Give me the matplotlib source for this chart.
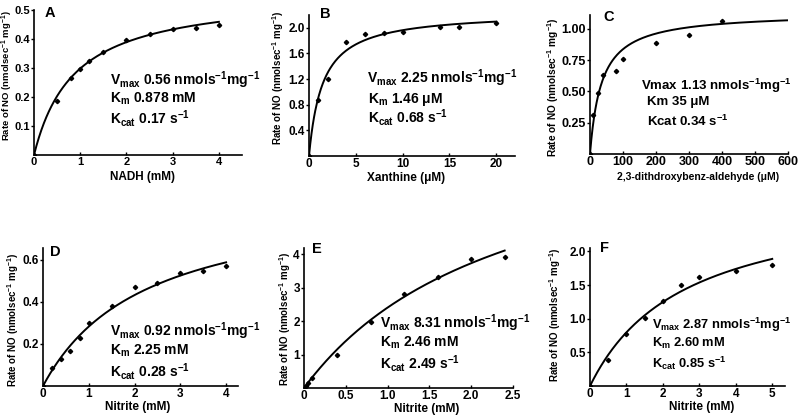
import numpy as np
import matplotlib
matplotlib.use('Agg')
import matplotlib.pyplot as plt

plt.rcParams['font.family'] = ['Liberation Sans', 'DejaVu Sans']
plt.rcParams['font.weight'] = 'bold'
plt.rcParams['mathtext.fontset'] = 'custom'
plt.rcParams['mathtext.rm'] = 'Liberation Sans:bold'
plt.rcParams['mathtext.it'] = 'Liberation Sans:bold'
plt.rcParams['mathtext.bf'] = 'Liberation Sans:bold'
plt.rcParams['mathtext.default'] = 'rm'

# datos
nadh_x = [0, 0.5, 0.8, 1.0, 1.2, 1.5, 2.0, 2.5, 3.0, 3.5, 4.0]
nadh_y = [0, 0.187, 0.267, 0.296, 0.325, 0.354, 0.395, 0.417, 0.434, 0.439, 0.448]
nadh_vmax, nadh_km = 0.56, 0.878

xan_x = [0, 1, 2, 4, 6, 8, 10, 14, 16, 20]
xan_y = [0, 0.88, 1.2, 1.78, 1.9, 1.92, 1.94, 2.02, 2.02, 2.08]
xan_vmax, xan_km = 2.25, 1.46

ald_x = [0, 10, 25, 40, 80, 100, 200, 300, 400]
ald_y = [0, 0.31, 0.49, 0.63, 0.66, 0.76, 0.89, 0.95, 1.06]
ald_vmax, ald_km = 1.13, 35

nitD_x = [0, 0.2, 0.4, 0.6, 0.8, 1.0, 1.5, 2.0, 2.5, 3.0, 3.5, 4.0]
nitD_y = [0, 0.086, 0.13, 0.167, 0.23, 0.30, 0.38, 0.47, 0.49, 0.538, 0.548, 0.571]
nitD_vmax, nitD_km = 0.92, 2.25

nitE_x = [0, 0.02, 0.05, 0.1, 0.4, 0.8, 1.2, 1.6, 2.0, 2.4]
nitE_y = [0, 0.05, 0.15, 0.3, 0.98, 1.97, 2.8, 3.31, 3.85, 3.92]
nitE_vmax, nitE_km = 8.31, 2.46

nitF_x = [0, 0.5, 1.0, 1.5, 2.0, 2.5, 3.0, 4.0, 5.0]
nitF_y = [0, 0.39, 0.77, 1.01, 1.27, 1.5, 1.62, 1.71, 1.80]
nitF_vmax, nitF_km = 2.87, 2.60

W, H = 800, 416
fig = plt.figure(figsize=(8, 4.16), dpi=100)


def box(l, r, b, t):
    return [l / W, 1 - b / H, (r - l) / W, (b - t) / H]


def ftxt(x, y, s, **kw):
    fig.text(x / W, 1 - y / H, s, **kw)


ylab = r'Rate of NO (nmolsec$^{-1}$ mg$^{-1}$)'

panels = [
    dict(letter='A', x=nadh_x, y=nadh_y, vmax=nadh_vmax, km=nadh_km,
         pos=(34, 242, 155, 10), xlim=4.5, ylim=0.5,
         xt=[0, 1, 2, 3, 4], yt=[0.1, 0.2, 0.3, 0.4, 0.5], yfmt='%.1f', xfmt=None,
         xlabel='NADH (mM)', xl=(142, 177), yl=(7, 76), let=(45, 13), yfs=6.8, tkfs=8,
         lines=[r'V$_{max}$ 0.56 nmols$^{-1}$mg$^{-1}$', r'K$_{m}$ 0.878 mM', r'K$_{cat}$ 0.17 s$^{-1}$'],
         lx=[110, 110, 110], ly=[80, 99, 118], tfs=10),
    dict(letter='B', x=xan_x, y=xan_y, vmax=xan_vmax, km=xan_km,
         pos=(309, 515, 156, 15), xlim=22, ylim=2.2,
         xt=[0, 5, 10, 15, 20], yt=[0.4, 0.8, 1.2, 1.6, 2.0], yfmt='%.1f', xfmt=None,
         xlabel='Xanthine (\u03bcM)', xl=(406, 178), yl=(278, 78), let=(320, 14), yfs=7, tkfs=8.5,
         lines=[r'V$_{max}$ 2.25 nmols$^{-1}$mg$^{-1}$', 'K$_{m}$ 1.46 \u03bcM', r'K$_{cat}$ 0.68 s$^{-1}$'],
         lx=[367, 368, 368], ly=[78, 99, 117], tfs=10),
    dict(letter='C', x=ald_x, y=ald_y, vmax=ald_vmax, km=ald_km,
         pos=(590, 788, 154, 15), xlim=600, ylim=1.11,
         xt=[0, 100, 200, 300, 400, 500, 600], yt=[0.25, 0.5, 0.75, 1.0], yfmt='%.2f', xfmt=None,
         xlabel='2,3-dithdroxybenz-aldehyde (\u03bcM)', xl=(698, 177), yl=(553, 87), let=(603, 17),
         yfs=7.3, tkfs=9,
         lines=[r'Vmax 1.13 nmols$^{-1}$mg$^{-1}$', 'Km 35 \u03bcM', r'Kcat 0.34 s$^{-1}$'],
         lx=[641, 647, 647], ly=[86, 102, 121], tfs=9.5),
    dict(letter='D', x=nitD_x, y=nitD_y, vmax=nitD_vmax, km=nitD_km,
         pos=(43, 238, 386, 248), xlim=4.26, ylim=0.657,
         xt=[0, 1, 2, 3, 4], yt=[0.2, 0.4, 0.6], yfmt='%.1f', xfmt=None,
         xlabel='Nitrite (mM)', xl=(138, 407), yl=(13, 320), let=(50, 252), yfs=7, tkfs=8.5,
         lines=[r'V$_{max}$ 0.92 nmols$^{-1}$mg$^{-1}$', r'K$_{m}$ 2.25 mM', r'K$_{cat}$ 0.28 s$^{-1}$'],
         lx=[110, 110, 110], ly=[331, 351, 371], tfs=10),
    dict(letter='E', x=nitE_x, y=nitE_y, vmax=nitE_vmax, km=nitE_km,
         pos=(304, 513, 388, 248), xlim=2.5, ylim=4.18,
         xt=[0, 0.5, 1.0, 1.5, 2.0, 2.5], yt=[1, 2, 3, 4], yfmt='%d', xfmt='e',
         xlabel='Nitrite (mM)', xl=(427, 409), yl=(285, 319), let=(312, 249), yfs=7, tkfs=8.5,
         lines=[r'V$_{max}$ 8.31 nmols$^{-1}$mg$^{-1}$', r'K$_{m}$ 2.46 mM', r'K$_{cat}$ 2.49 s$^{-1}$'],
         lx=[380, 380, 380], ly=[323, 343, 364], tfs=10),
    dict(letter='F', x=nitF_x, y=nitF_y, vmax=nitF_vmax, km=nitF_km,
         pos=(590, 785, 386, 248), xlim=5.35, ylim=2.05,
         xt=[0, 1, 2, 3, 4, 5], yt=[0.5, 1.0, 1.5, 2.0], yfmt='%.1f', xfmt=None,
         xlabel='Nitrite (mM)', xl=(702, 407), yl=(555, 315), let=(600, 248), yfs=7, tkfs=8.5,
         lines=[r'V$_{max}$ 2.87 nmols$^{-1}$mg$^{-1}$', r'K$_{m}$ 2.60 mM', r'K$_{cat}$ 0.85 s$^{-1}$'],
         lx=[652, 652, 652], ly=[325, 343, 363], tfs=9.3),
]

for p in panels:
    ax = fig.add_axes(box(*p['pos']))
    xs = np.linspace(0, max(p['x']) if p['letter'] != 'C' else 600, 300)
    ax.plot(xs, p['vmax'] * xs / (p['km'] + xs), color='black', lw=1.4)
    ax.plot(p['x'], p['y'], 'D', color='black', ms=2.2)
    ax.set_xlim(0, p['xlim'])
    ax.set_ylim(0, p['ylim'])
    for s in ['top', 'right']:
        ax.spines[s].set_visible(False)
    for s in ['left', 'bottom']:
        ax.spines[s].set_linewidth(1.2)
    ax.set_xticks(p['xt'])
    if p['xfmt'] == 'e':
        ax.set_xticklabels(['0'] + ['%.1f' % v for v in p['xt'][1:]])
    else:
        ax.set_xticklabels([str(v) for v in p['xt']])
    ax.set_yticks(p['yt'])
    ax.set_yticklabels([p['yfmt'] % v for v in p['yt']])
    ax.tick_params(axis='x', direction='in', length=2, width=1, pad=1.5, labelsize=p['tkfs'])
    ax.tick_params(axis='y', direction='out', length=2, width=1, pad=1, labelsize=p['tkfs'])
    ax.set_facecolor('none')

    ftxt(p['yl'][0], p['yl'][1], ylab, rotation=90, ha='center', va='center', fontsize=p['yfs'])
    ftxt(p['xl'][0], p['xl'][1], p['xlabel'], ha='center', va='center',
         fontsize=7.5 if p['letter'] == 'C' else 8.5)
    ftxt(p['let'][0], p['let'][1], p['letter'], ha='left', va='center', fontsize=10.5)
    for s, x0, y0 in zip(p['lines'], p['lx'], p['ly']):
        ftxt(x0, y0, s, ha='left', va='center', fontsize=p['tfs'])

fig.savefig('out.png', dpi=100, facecolor='white')
